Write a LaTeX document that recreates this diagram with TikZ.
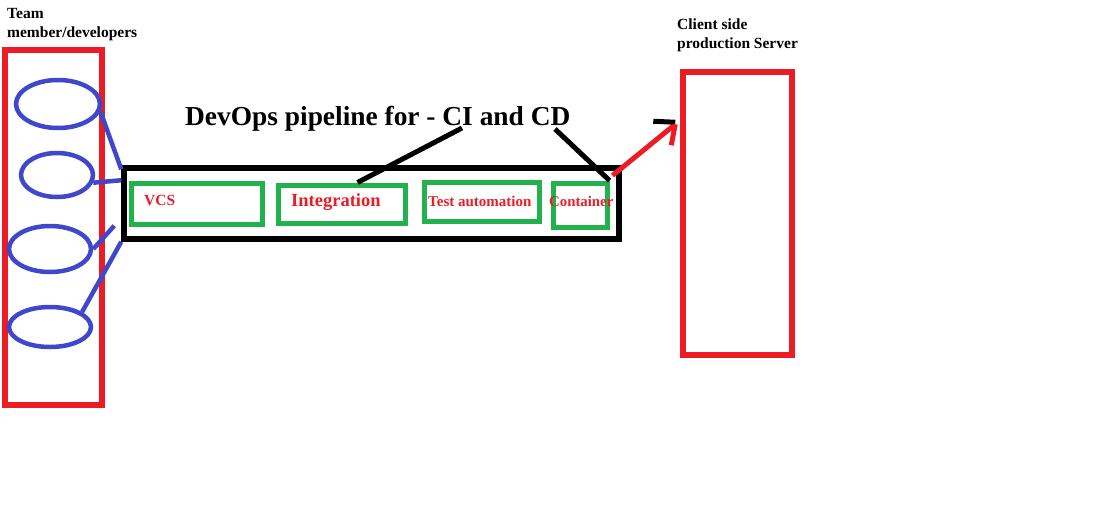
\documentclass[tikz,border=0pt]{standalone}
\usepackage{fontspec}
\setmainfont{Liberation Serif}
\usetikzlibrary{shapes.geometric}
\definecolor{pred}{HTML}{ED1C24}
\definecolor{pblue}{HTML}{3F48CC}
\definecolor{pgreen}{HTML}{22B14C}
\tikzset{
  devell/.style={draw=pblue, line width=4.5pt, ellipse, inner sep=0pt},
  greenbox/.style={draw=pgreen, line width=5pt, rectangle, inner sep=0pt},
  pipebox/.style={draw=black, line width=5.5pt, rectangle, inner sep=0pt},
  bluelink/.style={draw=pblue, line width=4.5pt},
  blacklink/.style={draw=black, line width=5pt},
  redlink/.style={draw=pred, line width=5pt},
  stagetxt/.style={text=pred, font=\bfseries\fontsize{15.5}{18}\selectfont, anchor=base west, inner sep=0pt},
  headtxt/.style={text=black, font=\bfseries\fontsize{15.5}{19}\selectfont, anchor=base west, inner sep=0pt, align=left},
}
\begin{document}
\begin{tikzpicture}[x=1pt,y=-1pt]
\useasboundingbox (0,0) rectangle (1097,523);
% team box
\node[draw=pred, line width=5.5pt, rectangle, inner sep=0pt, minimum width=97pt, minimum height=355pt] (team) at (53.5,227.5) {};
\node[devell, minimum width=84pt, minimum height=48pt] (e1) at (58,104) {};
\node[devell, minimum width=72pt, minimum height=44pt] (e2) at (57,175) {};
\node[devell, minimum width=82pt, minimum height=46pt] (e3) at (50,249) {};
\node[devell, minimum width=82pt, minimum height=40pt] (e4) at (50,327) {};
\node[headtxt] (teamlbl) at (7,18) {Team};
\node[headtxt] (teamlbl2) at (7,37) {member/developers};
% pipeline
\node[pipebox, minimum width=495pt, minimum height=71pt] (pipe) at (371.5,203.5) {};
\node[greenbox, minimum width=131pt, minimum height=41pt] (vcs) at (196.5,203.5) {};
\node[greenbox, minimum width=127pt, minimum height=38pt] (integ) at (341.5,204) {};
\node[greenbox, minimum width=115pt, minimum height=39pt] (test) at (481.5,201.5) {};
\node[greenbox, minimum width=54pt, minimum height=44pt] (cont) at (580,205) {};
\node[stagetxt] (vcstxt) at (144,205) {VCS};
\node[stagetxt, font=\bfseries\fontsize{18.5}{20}\selectfont] (integtxt) at (291,206) {Integration};
\node[stagetxt, font=\bfseries\fontsize{15}{18}\selectfont] (testtxt) at (428,206) {Test automation};
\node[stagetxt, font=\bfseries\fontsize{14.8}{18}\selectfont] (conttxt) at (549,206) {Container};
% title
\node[text=black, font=\bfseries\fontsize{27.4}{30}\selectfont, anchor=base west, inner sep=0pt] (title) at (185,125) {DevOps pipeline for - CI and CD};
% server
\node[draw=pred, line width=5.5pt, rectangle, inner sep=0pt, minimum width=109pt, minimum height=283pt] (server) at (737.5,213.5) {};
\node[headtxt] (srvlbl) at (677,29) {Client side};
\node[headtxt] (srvlbl2) at (677,48) {production Server};
% blue links
\draw[bluelink] (e1.-10) -- ([yshift=-4pt]pipe.north west);
\draw[bluelink] (e2.-12) -- ([yshift=-15pt]pipe.north west);
\draw[bluelink] (e3.east) -- ([xshift=-7pt,yshift=16pt]pipe.south west);
\draw[bluelink] (e4.25) -- (pipe.south west);
% black links from title
\draw[blacklink] ([xshift=277pt,yshift=-3pt]title.base west) -- ([xshift=16pt]integ.north);
\draw[blacklink] ([xshift=370pt,yshift=-4pt]title.base west) -- (cont.north east);
% red arrow
\coordinate (tip) at ([xshift=-5pt,yshift=-55pt]server.north west);
\draw[redlink] ([xshift=3pt,yshift=5pt]cont.north east) -- (tip);
\draw[blacklink] (tip) ++(-22,-3) -- ++(22,1);
\draw[redlink] (tip) -- ++(-4,21);
\end{tikzpicture}
\end{document}
